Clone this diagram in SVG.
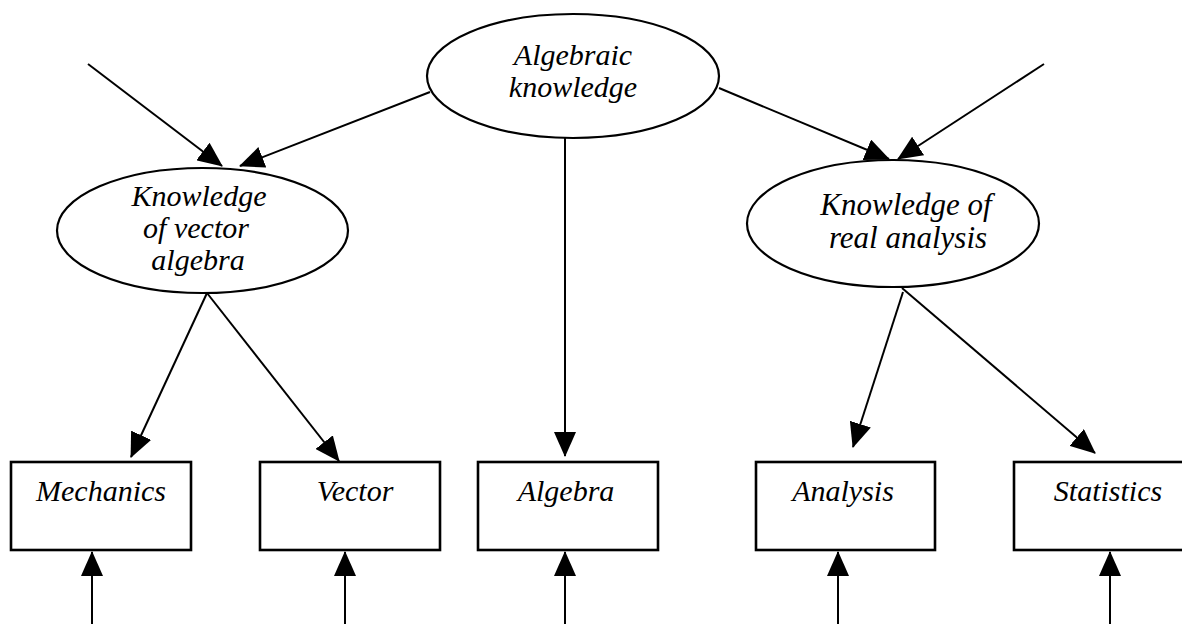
<svg xmlns="http://www.w3.org/2000/svg" width="1182" height="624" viewBox="0 0 1182 624">
<style>
.node ellipse,.node rect{fill:#fff;stroke:#000}
.node ellipse{stroke-width:2.2}
.node rect{stroke-width:2.6}
text{font-family:"Liberation Serif","Times New Roman",serif;font-style:italic;fill:#000;text-anchor:middle}
.t30{font-size:30px}
.t31{font-size:31px}
#connectors line{stroke:#000;stroke-width:2;marker-end:url(#ah)}
</style>
<defs>
<marker id="ah" markerUnits="userSpaceOnUse" markerWidth="26" markerHeight="22" refX="24" refY="11" orient="auto">
<path d="M0,0 L25,11 L0,22 z" fill="#000"/>
</marker>
</defs>
<rect width="1182" height="624" fill="#fff"/>
<g id="connectors">
<line x1="88" y1="64" x2="222" y2="166"/>
<line x1="430" y1="92" x2="240" y2="166"/>
<line x1="1044" y1="64" x2="898" y2="159"/>
<line x1="719" y1="88" x2="889" y2="159"/>
<line x1="565" y1="138" x2="565" y2="456"/>
<line x1="207" y1="293" x2="131" y2="457"/>
<line x1="207" y1="293" x2="339" y2="461"/>
<line x1="903" y1="292" x2="853" y2="447"/>
<line x1="902" y1="288" x2="1095" y2="453"/>
<line x1="92" y1="624" x2="92" y2="552"/>
<line x1="345" y1="624" x2="345" y2="552"/>
<line x1="565" y1="624" x2="565" y2="552"/>
<line x1="838" y1="624" x2="838" y2="552"/>
<line x1="1110" y1="624" x2="1110" y2="552"/>
</g>
<g id="algebraic-knowledge" class="node">
<ellipse cx="573" cy="76" rx="146" ry="62"/>
<text class="t30" x="573" y="65">Algebraic</text>
<text class="t30" x="573" y="97">knowledge</text>
</g>
<g id="vector-algebra-knowledge" class="node">
<ellipse cx="202.5" cy="230.5" rx="145.5" ry="62.5"/>
<text class="t30" x="199" y="206">Knowledge</text>
<text class="t30" x="196" y="238">of vector</text>
<text class="t30" x="198" y="270">algebra</text>
</g>
<g id="real-analysis-knowledge" class="node">
<ellipse cx="893" cy="223.5" rx="146" ry="63.5"/>
<text class="t31" x="906" y="215">Knowledge of</text>
<text class="t31" x="908" y="248">real analysis</text>
</g>
<g id="mechanics" class="node">
<rect x="11" y="462" width="180" height="88"/>
<text class="t30" x="101" y="501">Mechanics</text>
</g>
<g id="vector" class="node">
<rect x="260" y="462" width="180" height="88"/>
<text class="t30" x="355" y="501">Vector</text>
</g>
<g id="algebra" class="node">
<rect x="478" y="462" width="180" height="88"/>
<text class="t30" x="566" y="501">Algebra</text>
</g>
<g id="analysis" class="node">
<rect x="756" y="462" width="179" height="88"/>
<text class="t30" x="843" y="501">Analysis</text>
</g>
<g id="statistics" class="node">
<rect x="1014" y="462" width="180" height="88"/>
<text class="t30" x="1108" y="501">Statistics</text>
</g>
</svg>
